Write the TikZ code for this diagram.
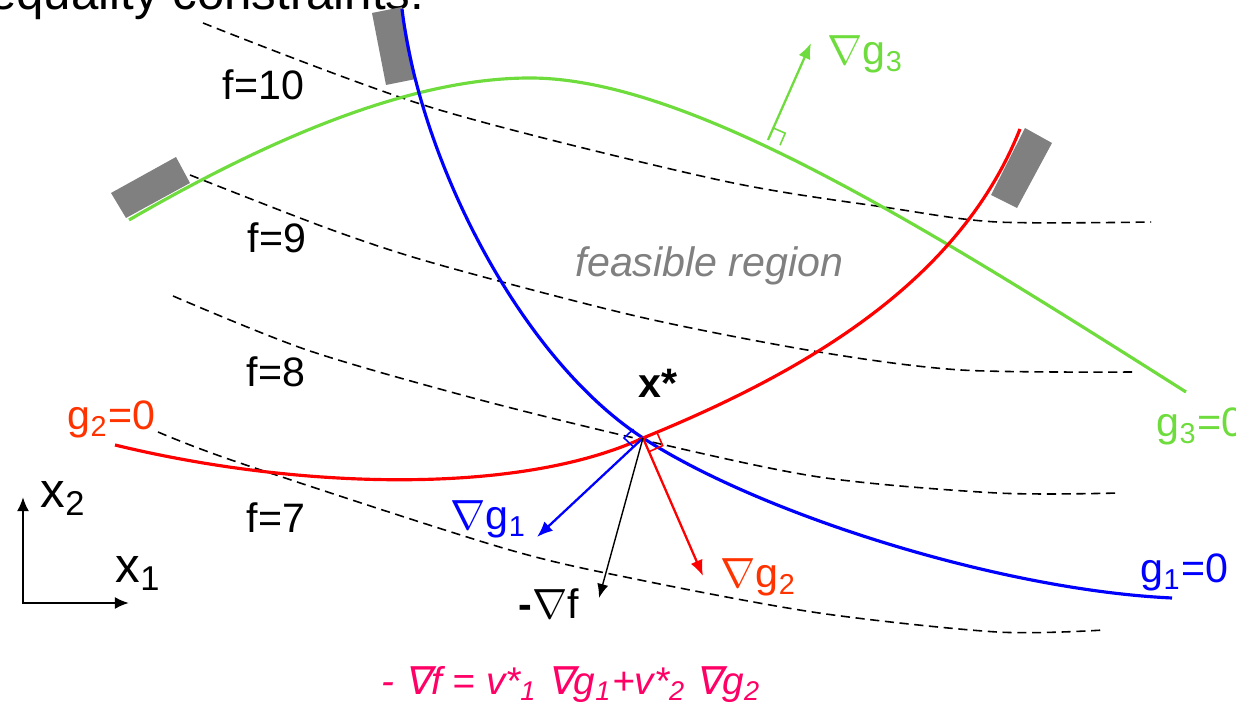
\documentclass[tikz,border=0pt]{standalone}
\usepackage{fontspec}
\setmainfont{Liberation Sans}
\newfontfamily\nabslant{DejaVu Sans}[FakeSlant=0.2]
\usetikzlibrary{arrows.meta}
\definecolor{limegreen}{RGB}{110,220,60}
\definecolor{redorange}{RGB}{255,51,0}
\definecolor{hotpink}{RGB}{255,0,102}
\newcommand{\lblfont}{\fontsize{11.7}{14}\selectfont}
\newcommand{\bigfont}{\fontsize{14}{16}\selectfont}
\newcommand{\nab}{$\nabla$}
\newcommand{\nabit}{{\nabslant ∇}}
\begin{document}
\begin{tikzpicture}[
                x=0.01cm, y=-0.01cm,
                >={Latex[length=4.5pt,width=3.6pt]},
                font=\lblfont,
                curve/.style={line width=0.9pt},
                level/.style={line width=0.45pt, dash pattern=on 2.6pt off 1.6pt},
                lbl/.style={anchor=base west, inner sep=0pt, font=\lblfont},
                wall/.style={fill=gray},
                grad/.style={->, line width=0.65pt},
                ortho/.style={line width=0.45pt},
                axis/.style={<->, line width=0.6pt, >={Latex[length=4pt,width=3.4pt]}}
            ]
            \useasboundingbox (0,0) rectangle (1236,707);

            % title, cut off at the top
            \node[lbl, anchor=base east, font=\bigfont] (title) at (425,10) {Inequality constraints:};

            % walls at the ends of the constraints
            \fill[wall] (111,193) -- (176,157) -- (190,183) -- (126,218) -- cycle;
            \fill[wall] (372,13) -- (402,7) -- (416,79) -- (386,85) -- cycle;
            \fill[wall] (1025,128) -- (1052,143) -- (1017,208) -- (991,195) -- cycle;

            % level lines of f
            \draw[level] plot[smooth] coordinates {(203,23) (433,108) (719,180) (890,208) (997,222) (1151,222)};
            \draw[level] plot[smooth] coordinates {(190,175) (332,230) (440,265) (640,317) (819,352) (961,370) (1135,372)};
            \draw[level] plot[smooth] coordinates {(173,296) (307,350) (473,398) (643,440) (819,477) (997,493) (1119,493)};
            \draw[level] plot[smooth] coordinates {(158,432) (240,463) (503,548) (640,580) (819,613) (997,632) (1104,630)};
            \node[lbl] (f10) at (222,100) {f=10};
            \node[lbl] (f9) at (247,253) {f=9};
            \node[lbl] (f8) at (246,387) {f=8};
            \node[lbl] (f7) at (246,533) {f=7};

            % constraints g1, g2, g3
            \coordinate (xs) at (643,438);
            \draw[curve, limegreen] (129,220) .. controls (250,150) and (400,78) .. (530,78)
                .. controls (690,78) and (930,230) .. (1186,392);
            \draw[curve, blue] (402,9) .. controls (420,160) and (520,358) .. (xs)
                .. controls (760,514) and (1000,590) .. (1172,598);
            \draw[curve, red] (115,445) .. controls (300,490) and (520,495) .. (xs)
                .. controls (810,370) and (960,280) .. (1020,129);
            \node[lbl, blue] (g1lbl) at (1140,583) {g\textsubscript{1}=0};
            \node[lbl, redorange] (g2lbl) at (67,430) {g\textsubscript{2}=0};
            \node[lbl, limegreen] (g3lbl) at (1156,437) {g\textsubscript{3}=0};
            \node[lbl, gray, font=\lblfont\itshape] (region) at (575,277) {feasible region};

            % optimum and gradients
            \coordinate (g1tip) at (537,537);
            \coordinate (g2tip) at (703,576);
            \coordinate (ftip) at (599,598);
            \coordinate (g3foot) at (768,140);
            \coordinate (g3tip) at (811,43);
            \node[lbl, font=\lblfont\bfseries] (xslbl) at (638,398) {x*};

            \draw[grad, blue] (xs) -- (g1tip);
            \draw[grad, red] (xs) -- (g2tip);
            \draw[->, line width=0.4pt, >={Latex[length=4pt,width=3.2pt]}] (xs) -- (ftip);
            \draw[grad, limegreen] (g3foot) -- (g3tip);

            % right angles
            \draw[ortho, blue] (xs) ++(-9.5,-8.9) -- ++(-9.5,8.9) -- ++(9.5,8.9);
            \draw[ortho, red] (xs) ++(13.7,-6.1) -- ++(6,13.7) -- ++(-13.7,6.1);
            \draw[ortho, limegreen] (g3foot) ++(5.2,-12) -- ++(12,5.2) -- ++(-5.2,12);

            \node[lbl, blue] (ng1) at (450,530) {\nab g\textsubscript{1}};
            \node[lbl, redorange] (ng2) at (720,588) {\nab g\textsubscript{2}};
            \node[lbl, limegreen] (ng3) at (827,65) {\nab g\textsubscript{3}};
            \node[lbl] (nf) at (518,619) {\textbf{-}\nab f};

            % axes
            \coordinate (origin) at (23,603);
            \coordinate (x1end) at (129,603);
            \coordinate (x2end) at (23,497);
            \draw[axis] (x2end) -- (origin) -- (x1end);
            \node[lbl, font=\bigfont] (x1lbl) at (115,583) {x\textsubscript{1}};
            \node[lbl, font=\bigfont] (x2lbl) at (40,508) {x\textsubscript{2}};

            % KKT condition
            \node[lbl, hotpink, font=\fontsize{11}{13}\selectfont\itshape] (kkt) at (381,695) {- \nabit f = v*\textsubscript{1} \nabit g\textsubscript{1}+v*\textsubscript{2} \nabit g\textsubscript{2}};
        \end{tikzpicture}
\end{document}
